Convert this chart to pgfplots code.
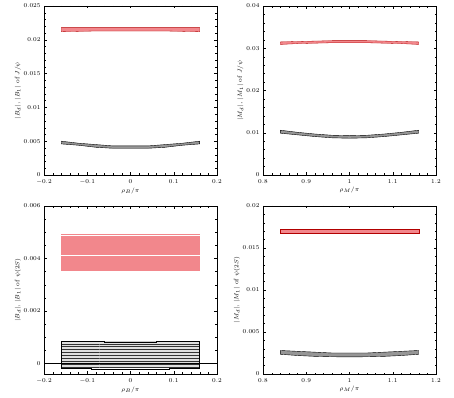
\documentclass[border=0pt]{standalone}
\usepackage{pgfplots}
\pgfplotsset{compat=1.18}
\usetikzlibrary{patterns}
\definecolor{bandred}{RGB}{242,135,140}
\definecolor{bandgray}{RGB}{150,150,150}
\pgfplotsset{
  panel/.style={
    scale only axis, width=173bp, height=169bp,
    anchor=south west,
    tick align=inside, xtick pos=both, ytick pos=both,
    minor x tick num=4, minor y tick num=4,
    major tick length=2.5bp, minor tick length=1.5bp,
    tick style={black, line width=0.3pt},
    axis line style={line width=0.4pt},
    scaled y ticks=false,
    yticklabel style={/pgf/number format/fixed, /pgf/number format/precision=3},
    xticklabel style={/pgf/number format/fixed, /pgf/number format/precision=1, yshift=-1.5bp},
    tick label style={font=\fontsize{6.5}{7}\selectfont},
    label style={font=\fontsize{6.5}{7}\selectfont},
    xlabel style={yshift=4bp},
    ylabel style={yshift=-4bp},
  },
  redband/.style={fill=bandred, draw=red!70!black, line width=0.3pt},
  grayband/.style={fill=bandgray, draw=black, line width=0.4pt},
}
\begin{document}
\begin{tikzpicture}
\path (0bp,0bp) rectangle (454bp,398bp);
% top left
\begin{axis}[panel, at={(44bp,223bp)}, xmin=-0.2, xmax=0.2, ymin=0, ymax=0.025,
  xtick={-0.2,-0.1,0,0.1,0.2}, ytick={0,0.005,0.01,0.015,0.02,0.025},
  xlabel={$\rho_B/\pi$}, ylabel={$|B_d|,\,|B_1|$ of $J/\psi$}]
\addplot[redband] coordinates {(-0.16,0.0212) (-0.08,0.0213) (0,0.0213) (0.08,0.0213) (0.16,0.0212)
  (0.16,0.0218) (0.08,0.0218) (0,0.0218) (-0.08,0.0218) (-0.16,0.0218)} -- cycle;
\addplot[grayband] coordinates {(-0.16,0.0046) (-0.12,0.0044) (-0.08,0.0041) (-0.04,0.00395) (0,0.00395) (0.04,0.00395) (0.08,0.0041) (0.12,0.0044) (0.16,0.0046)
  (0.16,0.0050) (0.12,0.0047) (0.08,0.0045) (0.04,0.0043) (0,0.0043) (-0.04,0.0043) (-0.08,0.0045) (-0.12,0.0047) (-0.16,0.0050)} -- cycle;
\end{axis}
% top right
\begin{axis}[panel, at={(263bp,223bp)}, xmin=0.8, xmax=1.2, ymin=0, ymax=0.04,
  xtick={0.8,0.9,1,1.1,1.2}, ytick={0,0.01,0.02,0.03,0.04},
  xlabel={$\rho_M/\pi$}, ylabel={$|M_d|,\,|M_1|$ of $J/\psi$}]
\addplot[redband] coordinates {(0.84,0.0309) (0.88,0.0311) (0.92,0.0312) (0.96,0.0313) (1,0.0313) (1.04,0.0313) (1.08,0.0312) (1.12,0.0311) (1.16,0.0309)
  (1.16,0.0315) (1.12,0.0316) (1.08,0.0317) (1.04,0.0318) (1,0.0318) (0.96,0.0318) (0.92,0.0317) (0.88,0.0316) (0.84,0.0315)} -- cycle;
\addplot[grayband] coordinates {(0.84,0.0099) (0.88,0.0095) (0.92,0.0091) (0.96,0.0088) (1,0.0087) (1.04,0.0088) (1.08,0.0091) (1.12,0.0095) (1.16,0.0099)
  (1.16,0.0106) (1.12,0.0101) (1.08,0.0097) (1.04,0.0094) (1,0.0093) (0.96,0.0094) (0.92,0.0097) (0.88,0.0101) (0.84,0.0106)} -- cycle;
\end{axis}
% bottom left
\begin{axis}[panel, at={(44bp,24bp)}, height=168bp, xmin=-0.2, xmax=0.2, ymin=-0.0004, ymax=0.006,
  xtick={-0.2,-0.1,0,0.1,0.2}, ytick={0,0.002,0.004,0.006},
  minor y tick num=3,
  xlabel={$\rho_B/\pi$}, ylabel={$|B_d|,\,|B_1|$ of $\psi(2S)$}]
\addplot[black, line width=0.4pt] coordinates {(-0.2,0) (0.2,0)};
\addplot[fill=bandred, draw=none] coordinates {(-0.16,0.00352) (0.16,0.00352) (0.16,0.00492) (-0.16,0.00492)} -- cycle;
\addplot[white, line width=0.6pt] coordinates {(-0.16,0.00413) (0.16,0.00413)};
\addplot[white, line width=0.5pt] coordinates {(-0.16,0.00488) (0.16,0.00488)};
\addplot[fill=gray!25, draw=none] coordinates {(-0.16,-0.00019) (0.16,-0.00019) (0.16,0.00085) (-0.16,0.00085)} -- cycle;
\addplot[pattern=horizontal lines, pattern color=black!80, draw=black, line width=0.4pt] coordinates {(-0.16,-0.00019) (-0.09,-0.00019) (-0.09,-0.00023) (0.09,-0.00023) (0.09,-0.00019) (0.16,-0.00019)
  (0.16,0.00085) (0.06,0.00085) (0.06,0.00082) (-0.06,0.00082) (-0.06,0.00085) (-0.16,0.00085)} -- cycle;
\addplot[black, line width=0.4pt] coordinates {(-0.2,0) (0.2,0)};
\end{axis}
% bottom right
\begin{axis}[panel, at={(263bp,24bp)}, height=168bp, xmin=0.8, xmax=1.2, ymin=0, ymax=0.02,
  xtick={0.8,0.9,1,1.1,1.2}, ytick={0,0.005,0.01,0.015,0.02},
  xlabel={$\rho_M/\pi$}, ylabel={$|M_d|,\,|M_1|$ of $\psi(2S)$}]
\addplot[redband] coordinates {(0.84,0.0168) (1.16,0.0168) (1.16,0.0173) (0.84,0.0173)} -- cycle;
\addplot[grayband] coordinates {(0.84,0.00235) (0.88,0.0022) (0.92,0.0021) (0.96,0.00205) (1,0.00204) (1.04,0.00205) (1.08,0.0021) (1.12,0.0022) (1.16,0.00235)
  (1.16,0.0028) (1.12,0.0027) (1.08,0.0026) (1.04,0.0025) (1,0.0025) (0.96,0.0025) (0.92,0.0026) (0.88,0.0027) (0.84,0.0028)} -- cycle;
\end{axis}
\end{tikzpicture}
\end{document}
